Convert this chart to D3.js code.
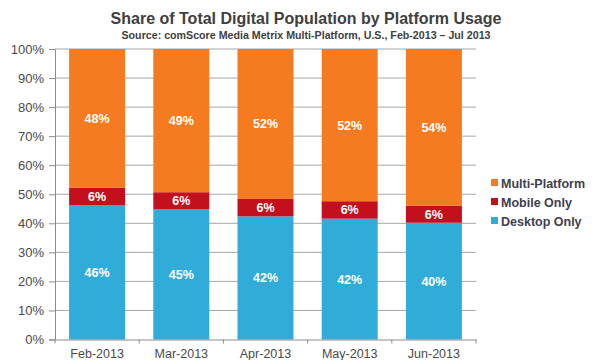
<!DOCTYPE html>
<html><head><meta charset="utf-8">
<script src="https://cdn.jsdelivr.net/npm/d3@7"></script>
<style>body{margin:0;background:#fff}svg{display:block}</style>
</head><body>
<script>
const categories = ["Feb-2013","Mar-2013","Apr-2013","May-2013","Jun-2013"];
const desktopOnly = [46.3, 44.8, 42.4, 41.6, 40.2];
const mobileOnly = [6.0, 5.9, 6.0, 6.0, 5.9];
const multiPlatform = [47.7, 49.3, 51.6, 52.4, 53.9];
const seriesNames = ["Desktop Only","Mobile Only","Multi-Platform"];
const yTicks = [0,10,20,30,40,50,60,70,80,90,100];
const title = "Share of Total Digital Population by Platform Usage";
const subtitle = "Source: comScore Media Metrix Multi-Platform, U.S., Feb-2013 \u2013 Jul 2013";

const colors = {"Desktop Only":"#31abd8","Mobile Only":"#c3101c","Multi-Platform":"#f47b20"};
const W=600,H=360;
const svg=d3.select("body").append("svg").attr("width",W).attr("height",H);
const m={left:55,right:476,top:49,bottom:339.5};

const rows = categories.map((c,i)=>({cat:c,"Desktop Only":desktopOnly[i],"Mobile Only":mobileOnly[i],"Multi-Platform":multiPlatform[i]}));
const stack = d3.stack().keys(seriesNames)(rows);

const x=d3.scaleBand().domain(categories).range([m.left,m.right]).paddingInner(0.335).paddingOuter(0.1675);
const y=d3.scaleLinear().domain([0,100]).range([m.bottom,m.top]);

// gridlines
svg.append("g").selectAll("line").data(yTicks.filter(d=>d>0)).join("line")
  .attr("x1",m.left).attr("x2",m.right).attr("y1",d=>y(d)).attr("y2",d=>y(d))
  .attr("stroke","#a6a6a6").attr("stroke-width",1);

// y axis
const yAxis=svg.append("g").attr("transform",`translate(${m.left},0)`)
  .call(d3.axisLeft(y).tickValues(yTicks).tickFormat(d=>d+"%").tickSize(6).tickPadding(5));
yAxis.select(".domain").attr("stroke","#8c8c8c");
yAxis.selectAll(".tick line").attr("stroke","#8c8c8c");
yAxis.selectAll("text").attr("font-family","Arial, 'Liberation Sans', sans-serif").attr("font-size",13).attr("fill","#4a4a4a");

// bars
const g=svg.append("g");
stack.forEach(s=>{
  g.append("g").selectAll("rect").data(s).join("rect")
    .attr("x",d=>x(d.data.cat)).attr("width",x.bandwidth())
    .attr("y",d=>y(d[1])).attr("height",d=>y(d[0])-y(d[1]))
    .attr("fill",colors[s.key]);
  g.append("g").selectAll("text").data(s).join("text")
    .attr("x",d=>x(d.data.cat)+x.bandwidth()/2)
    .attr("y",d=>(y(d[0])+y(d[1]))/2)
    .attr("dy","0.36em").attr("text-anchor","middle")
    .attr("font-family","Arial, 'Liberation Sans', sans-serif").attr("font-weight","bold").attr("font-size",12.5)
    .attr("fill","#fff")
    .text(d=>Math.round(d[1]-d[0])+"%");
});

// x axis
const xAxis=svg.append("g").attr("transform",`translate(0,${m.bottom})`)
  .call(d3.axisBottom(x).tickSize(0).tickPadding(10));
xAxis.select(".domain").attr("stroke","#8c8c8c");
xAxis.selectAll("text").attr("font-family","Arial, 'Liberation Sans', sans-serif").attr("font-size",12.5).attr("fill","#4a4a4a");
// boundary ticks
const bounds=categories.map(c=>x(c)-x.step()*x.paddingInner()/2);
bounds.push(m.right);
svg.append("g").selectAll("line").data(bounds).join("line")
  .attr("x1",d=>d).attr("x2",d=>d).attr("y1",m.bottom).attr("y2",m.bottom+4)
  .attr("stroke","#8c8c8c");

// title
svg.append("text").attr("x",306).attr("y",24).attr("text-anchor","middle")
  .attr("font-family","Arial, 'Liberation Sans', sans-serif").attr("font-weight","bold").attr("font-size",16)
  .attr("fill","#404040").text(title);
svg.append("text").attr("x",306).attr("y",39).attr("text-anchor","middle")
  .attr("font-family","'Liberation Sans Narrow', Arial, sans-serif").attr("font-weight","bold").attr("font-size",11.5)
  .attr("fill","#404040").attr("textLength",369).attr("lengthAdjust","spacingAndGlyphs").text(subtitle);

// legend
const legendOrder=["Multi-Platform","Mobile Only","Desktop Only"];
const lg=svg.append("g").selectAll("g").data(legendOrder).join("g")
  .attr("transform",(d,i)=>`translate(491,${183+i*19})`);
lg.append("rect").attr("x",0).attr("y",-4).attr("width",7).attr("height",7).attr("fill",d=>colors[d]);
lg.append("text").attr("x",10).attr("y",0).attr("dy","0.36em")
  .attr("font-family","Arial, 'Liberation Sans', sans-serif").attr("font-weight","bold").attr("font-size",12.5)
  .attr("fill","#404050").text(d=>d);
</script>
</body></html>
